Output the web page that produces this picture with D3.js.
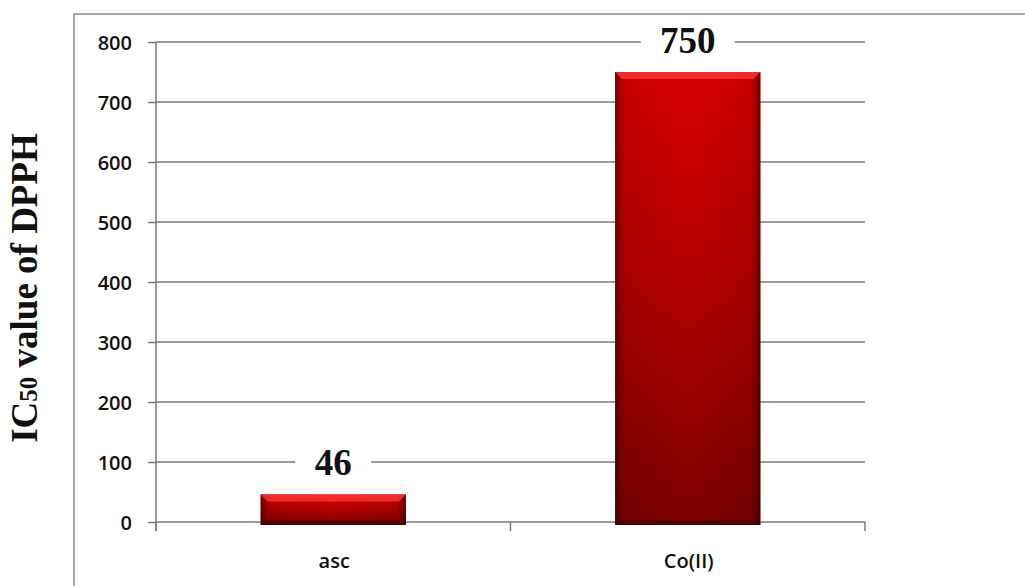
<!DOCTYPE html>
<html>
<head>
<meta charset="utf-8">
<script src="https://cdn.jsdelivr.net/npm/d3@7"></script>
<style>
  html, body { margin: 0; padding: 0; background: #fff; }
  svg { display: block; }
</style>
</head>
<body>
<svg id="chart" width="1025" height="586"></svg>
<script>
// IC50 values for DPPH radical scavenging
const categories = ["asc", "Co(II)"];
const values = [46, 750];
const valueLabels = ["46", "750"];
const yTicks = [0, 100, 200, 300, 400, 500, 600, 700, 800];

const svg = d3.select("#chart");
const plot = { left: 156, right: 865, top: 42, bottom: 522 };
const sansFont = "'Open Sans', Lato, sans-serif";
const serifFont = "'Liberation Serif', 'Times New Roman', serif";

// outer chart frame (runs past the right/bottom edges)
svg.append("rect")
  .attr("x", 74).attr("y", 14)
  .attr("width", 1000).attr("height", 700)
  .attr("fill", "#fff").attr("stroke", "#8a8a8a").attr("stroke-width", 1.5);

const x = d3.scaleBand().domain(categories).range([plot.left, plot.right]).padding(0);
const y = d3.scaleLinear().domain([0, 800]).range([plot.bottom, plot.top]);

// gridlines
svg.append("g").selectAll("line").data(yTicks.filter(d => d > 0)).join("line")
  .attr("x1", plot.left).attr("x2", plot.right)
  .attr("y1", d => y(d)).attr("y2", d => y(d))
  .attr("stroke", "#7a7a7a").attr("stroke-width", 1.5);

// y axis
const yAxis = d3.axisLeft(y).tickValues(yTicks).tickSize(8).tickPadding(16);
const gy = svg.append("g").attr("transform", `translate(${plot.left},0)`).call(yAxis);
gy.select(".domain").attr("stroke", "#7a7a7a").attr("stroke-width", 1.5)
  .attr("d", `M0,${plot.top}V${plot.bottom + 9}`);
gy.selectAll(".tick line").attr("stroke", "#7a7a7a").attr("stroke-width", 1.5);
gy.selectAll(".tick text")
  .attr("font-family", sansFont)
  .attr("font-size", 20).attr("font-weight", 600).attr("fill", "#111")
  .attr("dy", "0.36em");

// x axis
const xAxis = d3.axisBottom(x).tickSize(0).tickPadding(0);
const gx = svg.append("g").attr("transform", `translate(0,${plot.bottom})`).call(xAxis);
gx.select(".domain").remove();
gx.selectAll(".tick text").remove();
svg.append("line")
  .attr("x1", plot.left).attr("x2", plot.right)
  .attr("y1", plot.bottom).attr("y2", plot.bottom)
  .attr("stroke", "#7a7a7a").attr("stroke-width", 1.5);
const bounds = [plot.left, ...categories.map(c => x(c) + x.bandwidth())];
svg.append("g").selectAll("line").data(bounds).join("line")
  .attr("x1", d => d).attr("x2", d => d)
  .attr("y1", plot.bottom).attr("y2", plot.bottom + 9)
  .attr("stroke", "#7a7a7a").attr("stroke-width", 1.5);
svg.append("g").selectAll("text").data(categories).join("text")
  .attr("x", d => x(d) + x.bandwidth() / 2 + 1)
  .attr("y", 568)
  .attr("text-anchor", "middle")
  .attr("font-family", sansFont)
  .attr("font-size", 20).attr("font-weight", 600).attr("fill", "#111")
  .text(d => d);

// gradients for the bevelled bars
const defs = svg.append("defs");
const vg = defs.append("linearGradient").attr("id", "barV")
  .attr("x1", 0).attr("y1", 0).attr("x2", 0).attr("y2", 1);
vg.append("stop").attr("offset", "0%").attr("stop-color", "#d80000");
vg.append("stop").attr("offset", "45%").attr("stop-color", "#b60000");
vg.append("stop").attr("offset", "100%").attr("stop-color", "#7c0000");
const hg = defs.append("linearGradient").attr("id", "barH")
  .attr("x1", 0).attr("y1", 0).attr("x2", 1).attr("y2", 0);
hg.append("stop").attr("offset", "0%").attr("stop-color", "#000").attr("stop-opacity", 0.45);
hg.append("stop").attr("offset", "6%").attr("stop-color", "#000").attr("stop-opacity", 0.08);
hg.append("stop").attr("offset", "50%").attr("stop-color", "#000").attr("stop-opacity", 0);
hg.append("stop").attr("offset", "94%").attr("stop-color", "#000").attr("stop-opacity", 0.08);
hg.append("stop").attr("offset", "100%").attr("stop-color", "#000").attr("stop-opacity", 0.5);

const barFrac = 0.41;
const bw = x.bandwidth() * barFrac;
const bx = d => x(d) + (x.bandwidth() - bw) / 2;
const bars = svg.append("g").selectAll("g").data(categories.map((c, i) => ({ c, v: values[i] }))).join("g");
bars.append("rect")
  .attr("x", d => bx(d.c)).attr("y", d => y(d.v))
  .attr("width", bw).attr("height", d => y(0) - y(d.v) + 3)
  .attr("fill", "url(#barV)");
bars.append("rect")
  .attr("x", d => bx(d.c)).attr("y", d => y(d.v))
  .attr("width", bw).attr("height", d => y(0) - y(d.v) + 3)
  .attr("fill", "url(#barH)");
// lit top bevel
bars.append("path")
  .attr("d", d => {
    const x0 = bx(d.c), x1 = x0 + bw, t = y(d.v), b = 7;
    return `M${x0},${t}H${x1}L${x1 - b},${t + b}H${x0 + b}Z`;
  })
  .attr("fill", "#ff3a3a").attr("opacity", 0.75);
// shaded bottom bevel
bars.append("path")
  .attr("d", d => {
    const x0 = bx(d.c), x1 = x0 + bw, bt = y(0) + 3, b = 5;
    return `M${x0},${bt}H${x1}L${x1 - b},${bt - b}H${x0 + b}Z`;
  })
  .attr("fill", "#3a0000").attr("opacity", 0.55);

// value labels with white backing over gridlines
const labels = svg.append("g").selectAll("g").data(categories.map((c, i) => ({ c, v: values[i], t: valueLabels[i] }))).join("g")
  .attr("transform", d => `translate(${x(d.c) + x.bandwidth() / 2},${y(d.v) - 32})`);
labels.append("rect")
  .attr("x", d => -(d.t.length * 9 + 20)).attr("y", -16)
  .attr("width", d => 2 * (d.t.length * 9 + 20)).attr("height", 32)
  .attr("fill", "#fff");
labels.append("text")
  .attr("text-anchor", "middle").attr("dy", "0.35em")
  .attr("font-family", serifFont)
  .attr("font-size", 37).attr("font-weight", 700).attr("fill", "#111")
  .text(d => d.t);

// y axis title with subscript-sized "50"
const yt = svg.append("text")
  .attr("transform", `translate(37,288) rotate(-90)`)
  .attr("text-anchor", "middle")
  .attr("font-family", serifFont)
  .attr("font-size", 37).attr("font-weight", 700).attr("fill", "#111");
yt.append("tspan").text("IC");
yt.append("tspan").attr("font-size", 25).text("50");
yt.append("tspan").text(" value of DPPH");
</script>
</body>
</html>
